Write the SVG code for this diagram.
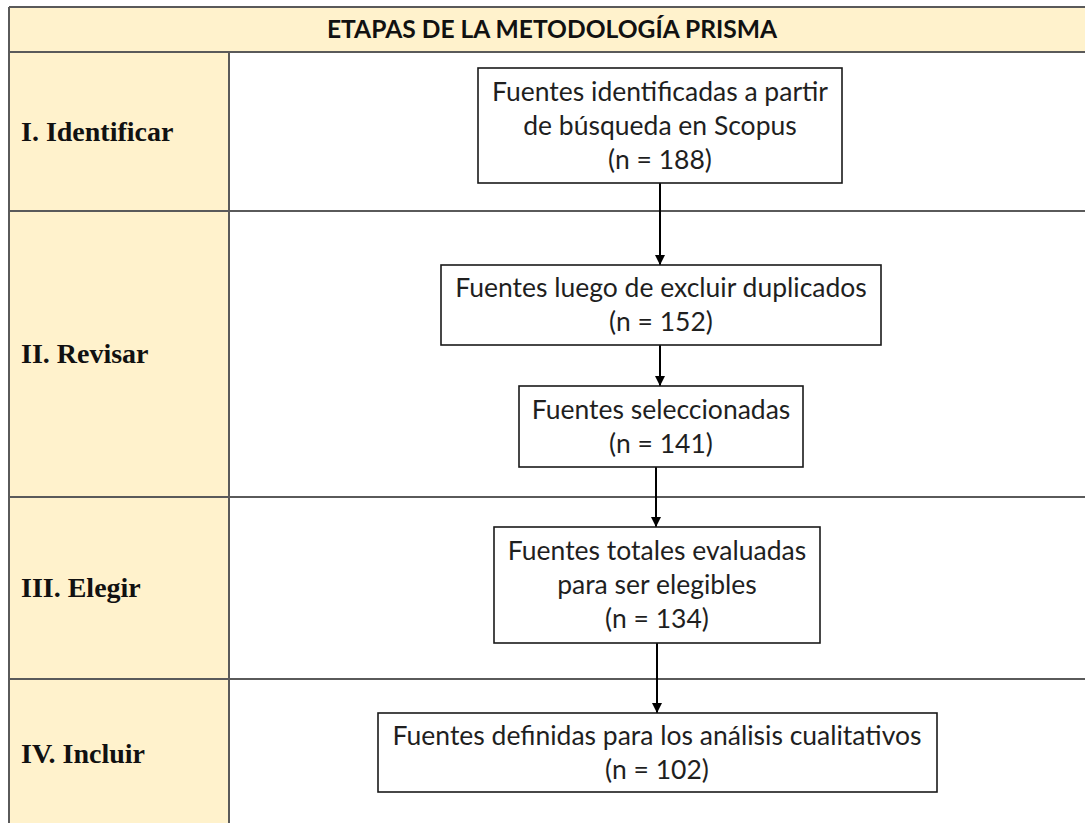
<svg xmlns="http://www.w3.org/2000/svg" width="1085" height="823" viewBox="0 0 1085 823">
<defs>
<style>
.grid{stroke:#5a5a5a;stroke-width:2;fill:none}
.box{fill:#ffffff;stroke:#1a1a1a;stroke-width:1.6}
.bt{font-family:Lato,"Liberation Sans",sans-serif;font-size:26.5px;fill:#1f1f1f;text-anchor:middle}
.lbl{font-family:"Liberation Serif",serif;font-weight:bold;font-size:28px;fill:#111}
.hdr{font-family:Lato,"Liberation Sans",sans-serif;font-weight:bold;font-size:24.6px;fill:#111;text-anchor:middle}
.conn{stroke:#000;stroke-width:2;fill:none}
</style>
<marker id="ah" markerWidth="10" markerHeight="10" refX="10" refY="5" orient="auto" markerUnits="userSpaceOnUse" viewBox="0 0 10 10">
<path d="M0,0 L10,5 L0,10 Z" fill="#000"/>
</marker>
</defs>
<rect x="0" y="0" width="1085" height="823" fill="#ffffff"/>
<g id="table">
<rect x="9" y="7" width="1090" height="45" fill="#fff2cc"/>
<rect x="9" y="52" width="220" height="780" fill="#fff2cc"/>
<line class="grid" x1="9" y1="7" x2="1100" y2="7"/>
<line class="grid" x1="9" y1="52" x2="1100" y2="52"/>
<line class="grid" x1="9" y1="211" x2="1100" y2="211"/>
<line class="grid" x1="9" y1="497" x2="1100" y2="497"/>
<line class="grid" x1="9" y1="679" x2="1100" y2="679"/>
<line class="grid" x1="9" y1="7" x2="9" y2="830"/>
<line class="grid" x1="229" y1="52" x2="229" y2="830"/>
<text class="hdr" x="552" y="38">ETAPAS DE LA METODOLOGÍA PRISMA</text>
<text class="lbl" x="21" y="141">I. Identificar</text>
<text class="lbl" x="21" y="363">II. Revisar</text>
<text class="lbl" x="21" y="597">III. Elegir</text>
<text class="lbl" x="21" y="763">IV. Incluir</text>
</g>
<g id="connectors">
<line class="conn" x1="660" y1="183" x2="660" y2="265" marker-end="url(#ah)"/>
<line class="conn" x1="660" y1="345" x2="660" y2="386" marker-end="url(#ah)"/>
<line class="conn" x1="656" y1="467" x2="656" y2="527" marker-end="url(#ah)"/>
<line class="conn" x1="657" y1="643" x2="657" y2="713" marker-end="url(#ah)"/>
</g>
<g id="node1">
<rect class="box" x="478" y="68" width="364" height="115"/>
<text class="bt" x="660" y="100.5">Fuentes identificadas a partir</text>
<text class="bt" x="660" y="134.5">de búsqueda en Scopus</text>
<text class="bt" x="660" y="168.5">(n = 188)</text>
</g>
<g id="node2">
<rect class="box" x="441" y="265" width="440" height="80"/>
<text class="bt" x="661" y="297">Fuentes luego de excluir duplicados</text>
<text class="bt" x="661" y="331">(n = 152)</text>
</g>
<g id="node3">
<rect class="box" x="519" y="386" width="284" height="81"/>
<text class="bt" x="661" y="418.5">Fuentes seleccionadas</text>
<text class="bt" x="661" y="452.5">(n = 141)</text>
</g>
<g id="node4">
<rect class="box" x="494" y="527" width="326" height="116"/>
<text class="bt" x="657" y="560">Fuentes totales evaluadas</text>
<text class="bt" x="657" y="594">para ser elegibles</text>
<text class="bt" x="657" y="628">(n = 134)</text>
</g>
<g id="node5">
<rect class="box" x="378" y="713" width="559" height="79"/>
<text class="bt" x="657" y="744.5">Fuentes definidas para los análisis cualitativos</text>
<text class="bt" x="657" y="778.5">(n = 102)</text>
</g>
</svg>
